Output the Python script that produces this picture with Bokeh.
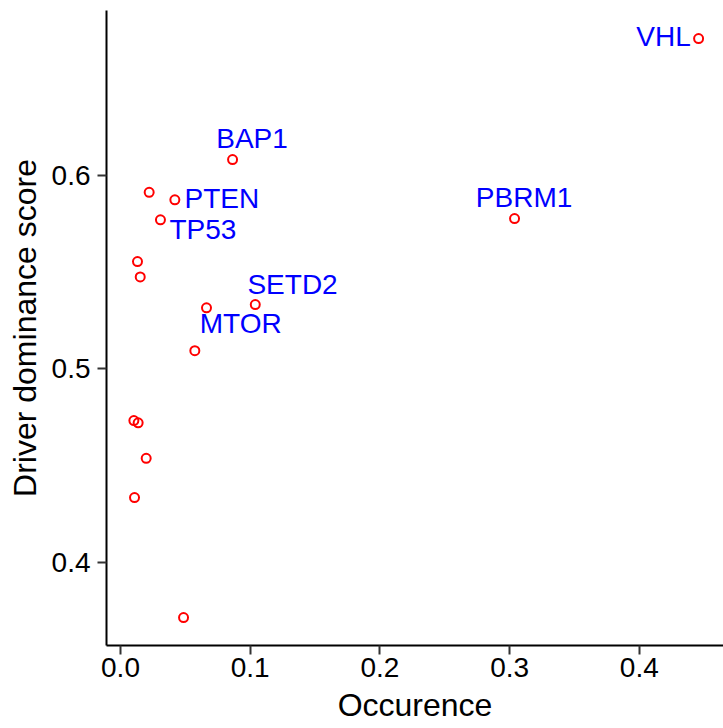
from bokeh.plotting import figure
from bokeh.models import ColumnDataSource, Range1d, FixedTicker
from bokeh.core.properties import value
from bokeh.embed import file_html
from bokeh.resources import INLINE

# Data
genes = ["VHL", "PBRM1", "BAP1", "", "PTEN", "TP53", "", "", "SETD2", "MTOR",
         "", "", "", "", "", ""]
occurrence = [0.4457, 0.3038, 0.0864, 0.0221, 0.0419, 0.0308, 0.0131, 0.0152,
              0.1039, 0.0663, 0.0573, 0.0103, 0.0136, 0.0198, 0.0108, 0.0486]
dominance = [0.6705, 0.5775, 0.6080, 0.5911, 0.5872, 0.5769, 0.5553, 0.5474,
             0.5331, 0.5314, 0.5093, 0.4732, 0.4720, 0.4537, 0.4334, 0.3714]
x_ticks = [0.0, 0.1, 0.2, 0.3, 0.4]
y_ticks = [0.4, 0.5, 0.6]

# label placement (screen-pixel offsets from the point)
label_dx = {"VHL": -35, "PBRM1": 9.5, "BAP1": 19.5, "PTEN": 47, "TP53": 42.5,
            "SETD2": 37.3, "MTOR": 34.2}
label_dy = {"VHL": -2, "PBRM1": -21.3, "BAP1": -21, "PTEN": -1.6, "TP53": 10,
            "SETD2": -20, "MTOR": 16}

src = ColumnDataSource(dict(x=occurrence, y=dominance))
lab = [i for i, g in enumerate(genes) if g]
lsrc = ColumnDataSource(dict(
    x=[occurrence[i] for i in lab],
    y=[dominance[i] for i in lab],
    t=[genes[i] for i in lab],
    dx=[label_dx[genes[i]] for i in lab],
    dy=[label_dy[genes[i]] for i in lab],
))

FONT = "Liberation Sans"

p = figure(width=723, height=728, output_backend="svg", toolbar_location=None,
           x_range=Range1d(-0.0108, 0.4649), y_range=Range1d(0.357, 0.685),
           min_border_left=106, min_border_right=0, min_border_top=10,
           min_border_bottom=83)
p.outline_line_color = None
p.xgrid.grid_line_color = None
p.ygrid.grid_line_color = None
p.background_fill_color = "white"
p.border_fill_color = "white"

p.scatter("x", "y", source=src, size=9, marker="circle", fill_color=None,
          line_color="#ff0000", line_width=2)
p.text("x", "y", text="t", source=lsrc, x_offset="dx", y_offset="dy",
       text_align="center", text_baseline="alphabetic",
       text_color="#0000ff", text_font=value(FONT), text_font_size="28px")

for ax in (p.xaxis[0], p.yaxis[0]):
    ax.axis_line_width = 2
    ax.axis_line_color = "#000000"
    ax.major_tick_line_color = "#333333"
    ax.major_tick_line_width = 2
    ax.major_tick_out = 9
    ax.major_tick_in = 0
    ax.minor_tick_line_color = None
    ax.major_label_text_font = FONT
    ax.major_label_text_font_size = "28px"
    ax.major_label_text_color = "#000000"
    ax.axis_label_text_font = FONT
    ax.axis_label_text_font_size = "32px"
    ax.axis_label_text_font_style = "normal"
    ax.axis_label_text_color = "#000000"

p.xaxis.ticker = FixedTicker(ticks=x_ticks)
p.yaxis.ticker = FixedTicker(ticks=y_ticks)
p.xaxis.major_label_overrides = {t: f"{t:.1f}" for t in x_ticks}
p.yaxis.major_label_overrides = {t: f"{t:.1f}" for t in y_ticks}
p.xaxis.axis_label = "Occurence"
p.yaxis.axis_label = "Driver dominance score"
p.xaxis.major_label_standoff = 3
p.yaxis.major_label_standoff = 7
p.xaxis.axis_label_standoff = 7
p.yaxis.axis_label_standoff = 6

open("out.html", "w").write(file_html(p, INLINE))
